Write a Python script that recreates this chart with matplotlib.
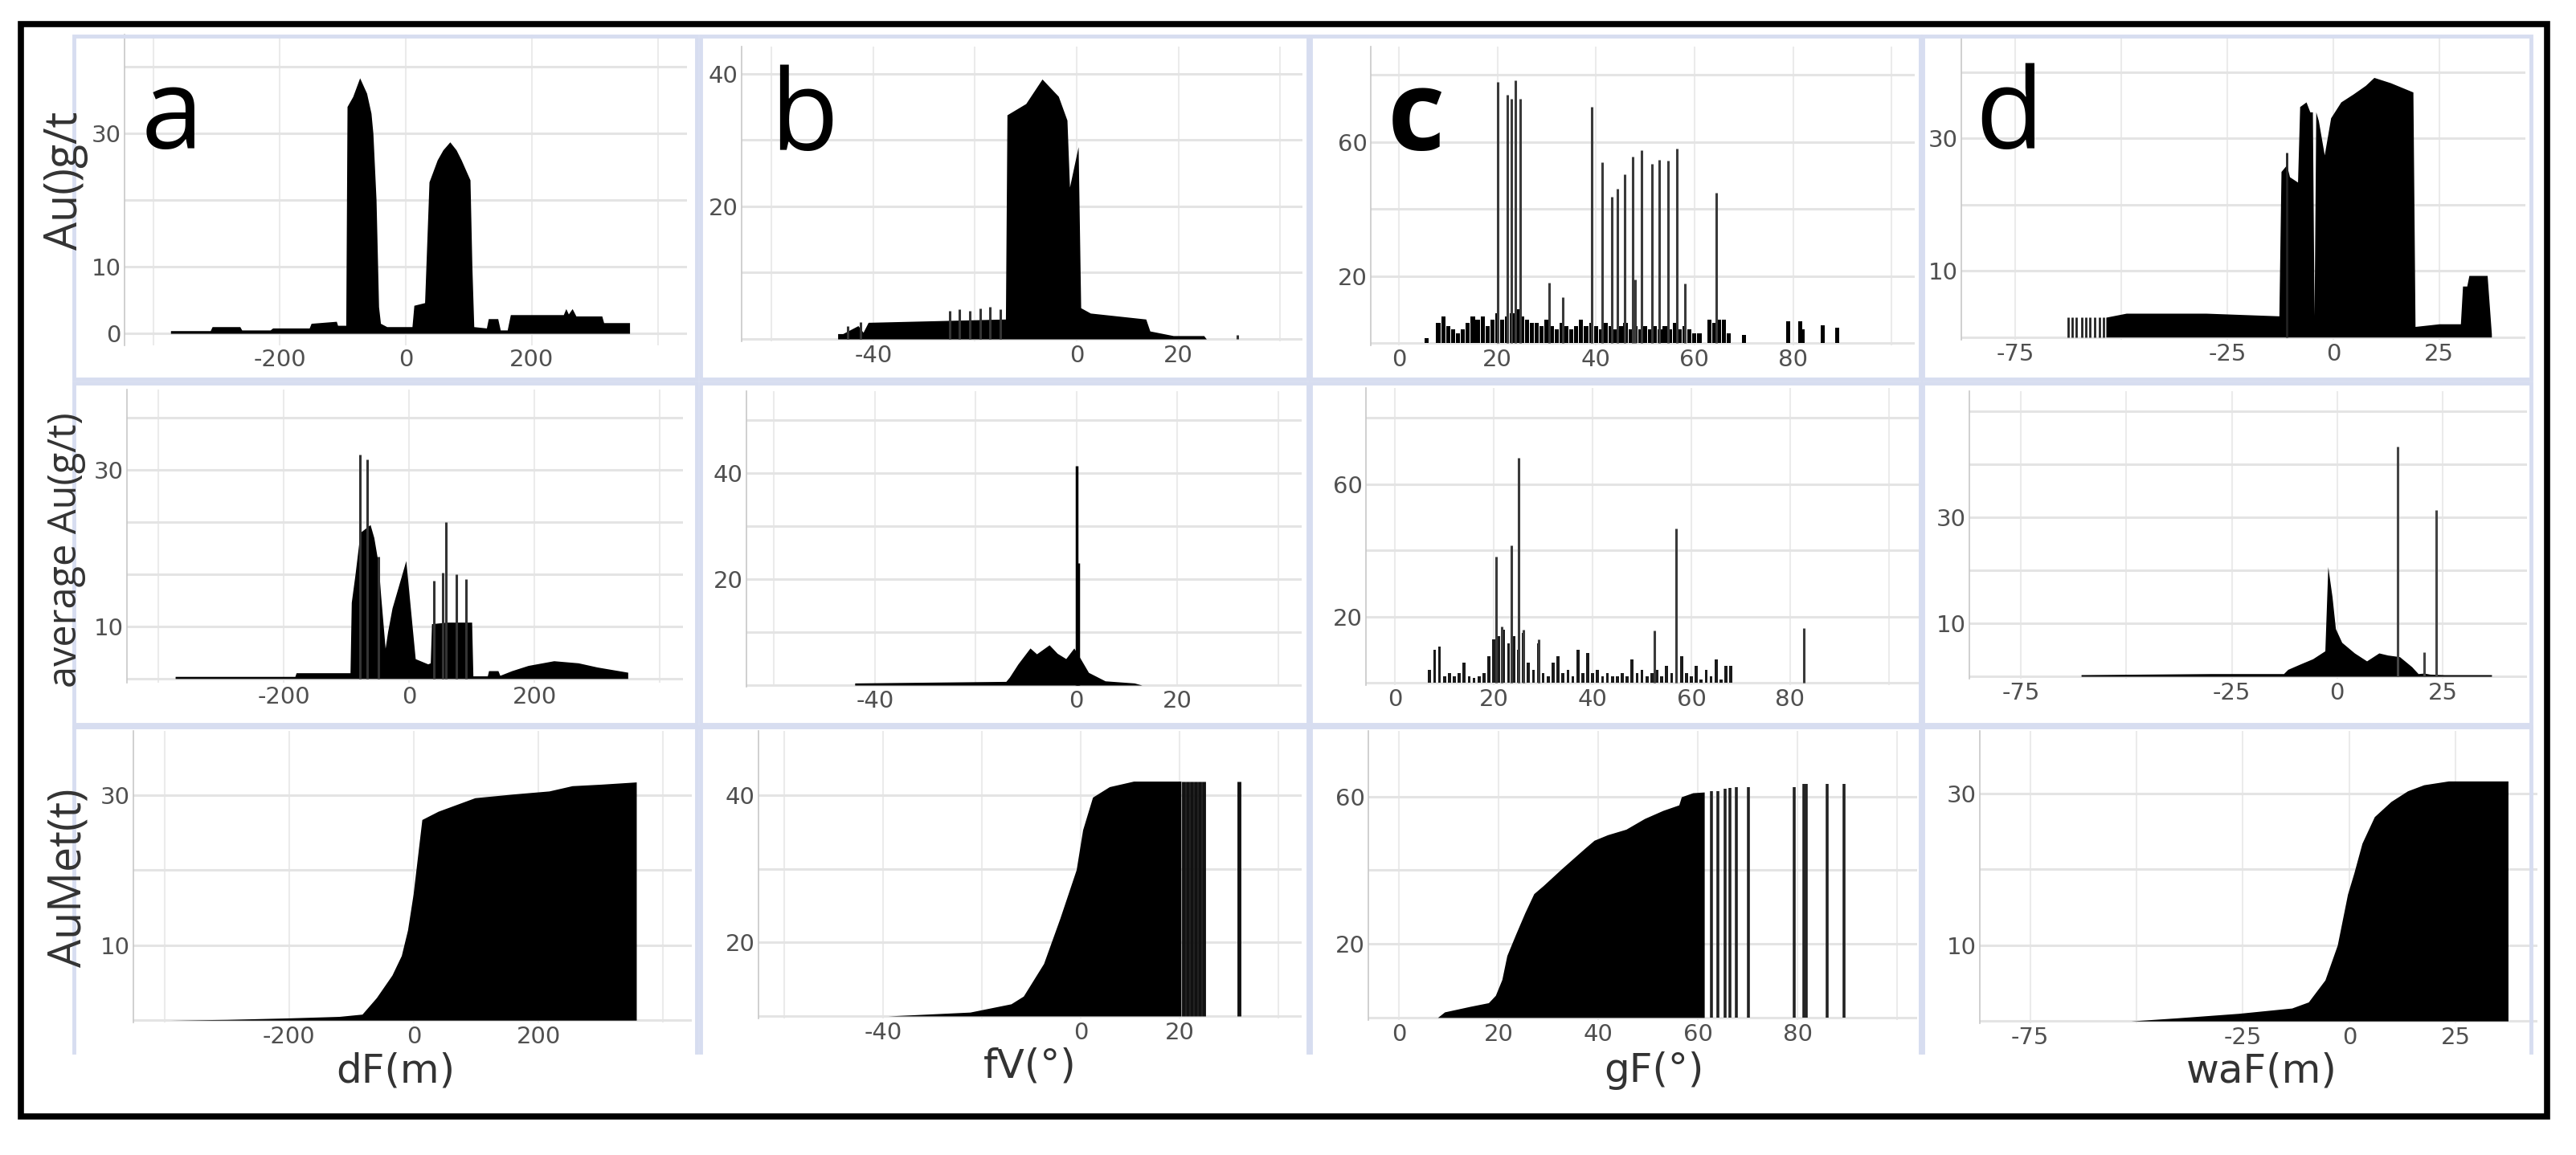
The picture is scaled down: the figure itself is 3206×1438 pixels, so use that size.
import numpy as np
import matplotlib.pyplot as plt
from matplotlib.patches import Rectangle
from matplotlib.lines import Line2D

# ---------------- data ----------------
# column a : dF(m)
a1_x = [-373, -310, -307, -263, -260, -215, -211, -153, -150, -110, -108, -95, -93, -84, -73, -62,
        -55, -52, -47, -43, -40, -30, 10, 13, 30, 37, 50, 59, 70, 80, 88, 102, 105, 108, 128, 131,
        146, 150, 161, 166, 250, 254, 258, 264, 270, 311, 314, 355]
a1_y = [0.4, 0.4, 1.0, 1.0, 0.5, 0.5, 0.8, 0.8, 1.5, 1.8, 1.2, 1.2, 34, 35.5, 38.3, 36,
        33, 30, 20, 4, 1.5, 1, 1, 4.2, 4.6, 22.7, 26, 27.5, 28.7, 27.5, 26, 23, 10, 1, 0.8, 2.2,
        2.2, 0.5, 0.5, 2.8, 2.8, 3.7, 2.9, 3.7, 2.6, 2.6, 1.6, 1.6]

a2_x = [-373, -182, -180, -94, -92, -86, -78, -62, -56, -49, -45, -38, -34, -27, -5, 10, 30,
        34, 36, 60, 90, 100, 102, 125, 127, 142, 145, 164, 190, 231, 270, 300, 349]
a2_y = [0.4, 0.4, 1.1, 1.1, 14.6, 20, 28, 29.5, 27, 22, 15.7, 5.8, 9, 13.5, 22.6, 3.8, 2.8,
        3, 10.5, 10.8, 10.8, 10.8, 0.5, 0.5, 1.5, 1.5, 0.6, 1.5, 2.5, 3.4, 3, 2.2, 1.2]
a2_spike_x = [-78, -67, -49, 40, 54, 59, 76, 91]
a2_spike_h = [43, 42, 23.4, 18.8, 20.3, 30, 20, 19]

a3_x = [-391, -300, -200, -120, -83, -60, -35, -20, -10, -1, 13, 39, 98, 160, 217, 254, 300, 357]
a3_y = [0, 0.1, 0.3, 0.5, 0.8, 3, 6, 8.6, 12, 16.8, 26.7, 27.8, 29.6, 30.1, 30.5, 31.2, 31.4, 31.7]

# column b : fV(°)
b1_x = [-47, -46, -43, -42, -41, -14, -13.7, -10, -6.8, -3.6, -1.9, -1.4, 0.3, 0.8, 2.7, 13.6,
        14.4, 19, 25, 25.5]
b1_y = [0.8, 0.8, 2, 1, 2.5, 3, 33.8, 35.5, 39.2, 36.6, 33, 22.9, 29, 4.7, 3.9, 3,
        1.2, 0.5, 0.5, 0]
b1_spike_x = [-45, -42.5, -25, -23, -21, -19, -17, -15, 31.6]
b1_spike_h = [2, 2.5, 4.3, 4.5, 4.2, 4.6, 4.8, 4.5, 0.6]

b2_x = [-44, -14, -13.3, -11.6, -9.2, -7.9, -5.4, -3.8, -2.1, -0.5, 0.8, 2.4, 5.7, 11.5, 13]
b2_y = [0.4, 0.7, 1.5, 4, 7, 5.9, 7.6, 6, 5, 7, 5, 2.4, 0.8, 0.4, 0]
b2_spike_x = [0, 0.3]
b2_spike_h = [41.4, 23]

b3_x = [-39, -22.4, -14.1, -11.6, -7.5, -4.2, -0.9, 0.4, 2.4, 5.8, 10.7, 20.3]
b3_y = [0, 0.7, 2.2, 3.6, 9.5, 17.7, 26.5, 33.7, 39.6, 41.5, 42.5, 42.5]
b3_bar_x = [20.8, 21.6, 22.4, 23.2, 24.0, 24.8, 32.1]
b3_bar_h = [42.5, 42.5, 42.5, 42.5, 42.5, 42.5, 42.5]

# column c : gF(°)
c1_spike_x = [20.0, 22.1, 22.9, 23.6, 24.6, 30.5, 33.3, 39.1, 41.2, 43.3, 44.4, 45.9, 47.5,
              48.0, 49.3, 51.3, 52.9, 54.6, 56.4, 58.1, 64.4]
c1_spike_h = [78, 74, 73, 78.4, 73, 18, 13.7, 70.5, 54, 43.6, 46, 50.4, 55.6,
              19, 57.6, 53.6, 54.8, 54.4, 58, 17.7, 44.8]
c1_base_x = [5.6, 8, 9, 10, 11, 12, 13, 14, 15, 16, 17, 18, 19, 20, 21, 22, 23, 24, 25, 26, 27,
             28, 29, 30, 31, 32, 33, 34, 35, 36, 37, 38, 39, 40, 41, 42, 43, 44, 45, 46, 47, 48,
             49, 50, 51, 52, 53, 54, 55, 56, 57, 58, 59, 60, 61, 63, 64, 65, 66, 67, 70, 79,
             81.5, 82, 86, 89]
c1_base_h = [1.5, 6, 8, 5, 4, 3, 4, 6, 8, 7, 8, 5, 7, 9, 7, 8, 9, 10, 8, 7, 6,
             6, 5, 7, 5, 4, 6, 5, 4, 5, 7, 5, 6, 5, 4, 6, 5, 4, 5, 6, 4, 5,
             4, 5, 4, 5, 4, 5, 4, 6, 4, 5, 4, 3, 3, 7, 6, 7, 7, 3, 2.5, 6.6,
             6.6, 4, 5.3, 4.5]

c2_spike_x = [20.5, 21.6, 23.6, 25.0, 26.0, 29.1, 52.5, 56.9, 82.7]
c2_spike_h = [38, 17, 41.6, 67.9, 16, 13, 15.8, 46.5, 16.5]
c2_base_x = [7, 8, 9, 10, 11, 12, 13, 14, 15, 16, 17, 18, 19, 20, 21, 22, 23, 24, 25, 26, 27,
             28, 29, 30, 31, 32, 33, 34, 35, 36, 37, 38, 39, 40, 41, 42, 43, 44, 45, 46, 47, 48,
             49, 50, 51, 52, 53, 54, 55, 56, 57, 58, 59, 60, 61, 62, 63, 64, 65, 66, 67, 68]
c2_base_h = [4, 10, 11, 2, 3, 2, 3, 6, 2, 1.5, 2, 3, 8, 13, 14, 16, 12, 14, 10, 15, 6,
             4, 12, 3, 2, 6, 8, 3, 4, 2, 10, 3, 9, 3, 4, 2, 3, 2, 2, 3, 2, 7,
             3, 4, 2, 3, 4, 2, 5, 3, 2, 8, 3, 2, 5, 1, 4, 2, 7, 1, 5, 5]

c3_x = [7.8, 9.2, 14.3, 18, 19.4, 20.7, 21.7, 23.5, 25.3, 27.1, 29, 32.7, 37.3, 39.2, 41.9,
        45.6, 49.3, 53, 56.2, 56.7, 59, 61.3]
c3_y = [0, 1.5, 3, 4, 6, 10.3, 16.8, 22.7, 28.4, 33.6, 35.8, 40.4, 45.9, 48.1, 49.6,
        51.1, 54, 56.2, 57.7, 59.9, 61, 61.2]
c3_bar_x = [62.8, 64.1, 65.5, 66.5, 67.8, 70.1, 79.4, 81.3, 81.8, 85.9, 89.3]
c3_bar_h = [61.5, 61.5, 62.2, 62.4, 62.6, 62.6, 62.6, 63.4, 63.4, 63.4, 63.4]

# column d : waF(m)
d1_x = [-53.6, -48.8, -30, -12.8, -12.3, -11, -10.3, -8.4, -7.9, -6.4, -5.5, -4.9, -4.5, -4.1,
        -3.5, -2.1, -0.6, 1.8, 4.7, 7.6, 9.6, 13.5, 18.8, 19.3, 25, 30, 30.5, 31.5, 32, 36.3, 37.3]
d1_y = [3, 3.6, 3.6, 3.2, 25, 26, 24.2, 23.4, 34.8, 35.5, 34, 34, 3.2, 34,
        32.7, 27.5, 33.1, 35.5, 36.7, 38, 39.2, 38.4, 37, 1.6, 2, 2, 7.7, 7.7, 9.3, 9.3, 0.5]
d1_bar_x = [-62.5, -61.6, -60.7, -59.2, -58.3, -57.4, -56.2, -55.1, -54.2, -11]
d1_bar_h = [3, 3, 3, 3, 3, 3, 3, 3, 3, 27.9]

d2_x = [-60.7, -30, -12.7, -11.7, -8.8, -5.8, -2.9, -2.2, -1.2, -0.4, 1.1, 4.1, 7, 9.9, 12,
        14.8, 17.7, 19.2, 20.6, 22, 25.4, 36.6]
d2_y = [0.3, 0.5, 0.5, 1.3, 2.3, 3.3, 4.8, 20.7, 15, 9, 6.4, 4.4, 2.9, 4.4, 4,
        3.7, 1.8, 0.5, 0.6, 0.4, 0.3, 0.3]
d2_spike_x = [14.3, 20.6, 23.5]
d2_spike_h = [43.3, 4.5, 31.3]

d3_x = [-51.3, -40.6, -26, -13.5, -9.6, -5.7, -2.8, -0.4, 1.1, 3, 5.9, 9.8, 13.7, 17.5, 23.3, 37.3]
d3_y = [0, 0.4, 1, 1.7, 2.5, 5.4, 10, 16.7, 19.5, 23.4, 26.9, 28.9, 30.3, 31.1, 31.6, 31.6]

row_labels = ['Au()g/t', 'average Au(g/t)', 'AuMet(t)']
col_labels = ['dF(m)', 'fV(°)', 'gF(°)', 'waF(m)']
letters = ['a', 'b', 'c', 'd']

# ---------------- layout (pixels of the 3206x1438 canvas) ----------------
W, H = 3206, 1438
fig = plt.figure(figsize=(W / 100, H / 100), dpi=100)
TICK_FONT = ['Liberation Sans Narrow', 'DejaVu Sans']


def px(x, y):
    return x / W, 1 - y / H


def panel(box, xlim, ylim, xgrid, ygrid, xt, yt, ytl=None):
    L, T, R, B = box
    ax = fig.add_axes([L / W, 1 - B / H, (R - L) / W, (B - T) / H])
    ax.set_facecolor('none')
    ax.set_xlim(*xlim)
    ax.set_ylim(*ylim)
    for v in xgrid:
        ax.axvline(v, color='#ebebeb', lw=1.5, zorder=0)
    for v in ygrid:
        ax.axhline(v, color='#e4e4e4', lw=2.2, zorder=0)
    for s in ['top', 'right', 'bottom']:
        ax.spines[s].set_visible(False)
    ax.spines['left'].set_color('#c8c8c8')
    ax.spines['left'].set_linewidth(1.2)
    ax.set_xticks(xt)
    ax.set_xticklabels([str(v) for v in xt])
    ax.set_yticks(yt)
    ax.set_yticklabels(ytl if ytl else [str(v) for v in yt])
    ax.tick_params(length=0, pad=3, labelsize=21, labelcolor='#505050')
    for lab in ax.get_xticklabels() + ax.get_yticklabels():
        lab.set_family(TICK_FONT)
    return ax


def area(ax, x, y):
    ax.fill_between(x, 0, y, color='black', lw=0, zorder=2)


def spikes(ax, x, h, lw=2.2, color='#333333'):
    ax.vlines(x, 0, h, color=color, lw=lw, zorder=3)


# frames around every cell
cols = [(92, 867), (872, 1628), (1631, 2390), (2393, 3150)]
rows = [(45, 472), (477, 902), (905, 1310)]
for ci, (l, r) in enumerate(cols):
    for ri, (t, b) in enumerate(rows):
        fc = '#d7ddf0'
        if ri < 2:
            fig.patches.append(Rectangle(px(l, b), (r - l) / W, (b - t) / H, transform=fig.transFigure,
                                         fill=False, ec=fc, lw=3.5, zorder=0))
        else:
            for xs, ys in [([l, l], [t, b]), ([r, r], [t, b]), ([l, r], [t, t])]:
                fig.lines.append(Line2D([v / W for v in xs], [1 - v / H for v in ys],
                                        transform=fig.transFigure, color=fc, lw=3.5, zorder=0))

# outer black border
fig.patches.append(Rectangle(px(26, 1390), (3170 - 26) / W, (1390 - 30) / H, transform=fig.transFigure,
                             fill=False, ec='black', lw=5.5, zorder=10))

# ---- column a
ax = panel((155, 43, 855, 430), (-446, 446), (-1.8, 44.8), [-400, -200, 0, 200, 400],
           [0, 10, 20, 30, 40], [-200, 0, 200], [0, 10, 30])
area(ax, a1_x, a1_y)

# the picture prints "30" on the fourth grid line of this panel
ax = panel((158, 485, 850, 850), (-450, 437), (-0.8, 55.4), [-400, -200, 0, 200, 400],
           [0, 10, 20, 30, 40, 50], [-200, 0, 200], [10, 40], ['10', '30'])
area(ax, a2_x, a2_y)
spikes(ax, a2_spike_x, a2_spike_h)

ax = panel((166, 910, 861, 1273), (-450, 446), (-0.3, 38.5), [-400, -200, 0, 200, 400],
           [0, 10, 20, 30], [-200, 0, 200], [10, 30])
area(ax, a3_x, a3_y)

# ---- column b
ax = panel((923, 58, 1621, 425), (-65.9, 44.4), (-0.36, 44.1), [-60, -40, -20, 0, 20, 40],
           [0, 10, 20, 30, 40], [-40, 0, 20], [20, 40])
area(ax, b1_x, b1_y)
spikes(ax, b1_spike_x, b1_spike_h)

ax = panel((929, 487, 1620, 855), (-65.5, 44.7), (-0.3, 55.5), [-60, -40, -20, 0, 20, 40],
           [0, 10, 20, 30, 40, 50], [-40, 0, 20], [20, 40])
area(ax, b2_x, b2_y)
spikes(ax, b2_spike_x, b2_spike_h, lw=2.5, color='black')

ax = panel((944, 910, 1620, 1268), (-65.2, 44.7), (-0.44, 51.6), [-60, -40, -20, 0, 20, 40],
           [0, 13.4, 26.6, 40], [-40, 0, 20], [13.4, 40], ['20', '40'])
area(ax, b3_x, b3_y)
spikes(ax, b3_bar_x, b3_bar_h, lw=3.5, color='#111111')

# ---- column c
ax = panel((1706, 58, 2383, 430), (-5.7, 104.7), (-0.7, 88.5), [0, 20, 40, 60, 80, 100],
           [0, 20, 40, 60, 80], [0, 20, 40, 60, 80], [20, 60])
ax.bar(c1_base_x, c1_base_h, width=0.85, color='black', lw=0, zorder=2)
spikes(ax, c1_spike_x, c1_spike_h, lw=2.2, color='#3a3a3a')

ax = panel((1700, 483, 2389, 853), (-5.9, 106.2), (-0.7, 89), [0, 20, 40, 60, 80, 100],
           [0, 20, 40, 60, 80], [0, 20, 40, 60, 80], [20, 60])
ax.bar(c2_base_x, c2_base_h, width=0.6, color='#1a1a1a', lw=0, zorder=2)
spikes(ax, c2_spike_x, c2_spike_h, lw=2.2, color='#3a3a3a')

ax = panel((1703, 910, 2386, 1270), (-6.1, 104), (-0.7, 77.8), [0, 20, 40, 60, 80, 100],
           [0, 20, 40, 60], [0, 20, 40, 60, 80], [20, 60])
area(ax, c3_x, c3_y)
spikes(ax, c3_bar_x, c3_bar_h, lw=2.6, color='#222222')

# ---- column d
ax = panel((2441, 47, 3143, 423), (-87.7, 45.3), (-0.4, 45.2), [-75, -50, -25, 0, 25],
           [0, 10, 20, 30, 40], [-75, -25, 0, 25], [10, 30])
area(ax, d1_x, d1_y)
spikes(ax, d1_bar_x, d1_bar_h, lw=2.0, color='#222222')

ax = panel((2451, 487, 3145, 845), (-87.2, 45), (-0.45, 53.8), [-75, -50, -25, 0, 25],
           [0, 10, 20, 30, 40, 50], [-75, -25, 0, 25], [10, 30])
area(ax, d2_x, d2_y)
spikes(ax, d2_spike_x, d2_spike_h, lw=2.2, color='#444444')

ax = panel((2464, 910, 3158, 1274), (-86.8, 44.2), (-0.3, 38.2), [-75, -50, -25, 0, 25],
           [0, 10, 20, 30], [-75, -25, 0, 25], [10, 30])
area(ax, d3_x, d3_y)

# ---- texts
letter_pos = [(176, 185), (958, 187), (1727, 187), (2458, 185)]
for s, (x, y) in zip(letters, letter_pos):
    fig.text(*px(x, y), s, fontsize=100, family='Open Sans', ha='left', va='baseline',
             weight=700 if s == 'c' else 400, color='black')

ylab_pos = [(82, 225), (82, 685), (86, 1093)]
ylab_size = [40, 35, 40]
for s, (x, y), fs in zip(row_labels, ylab_pos, ylab_size):
    fig.text(*px(x, y), s, fontsize=fs, family='Open Sans', rotation=90, ha='center', va='center',
             color='#333333')

xlab_pos = [(492, 1333), (1282, 1328), (2058, 1333), (2815, 1333)]
for s, (x, y) in zip(col_labels, xlab_pos):
    fig.text(*px(x, y), s, fontsize=36, family=TICK_FONT, ha='center', va='center', color='#333333')

fig.savefig('out.png', dpi=100, facecolor='white')
